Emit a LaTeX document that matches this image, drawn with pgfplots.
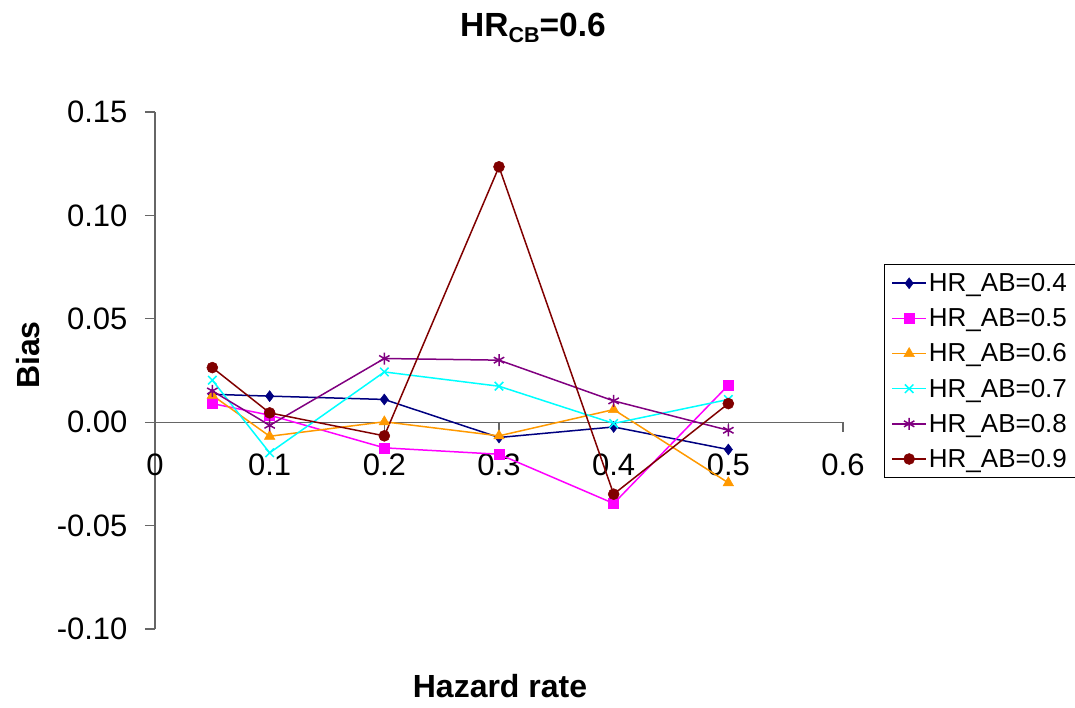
\documentclass[border=0pt]{standalone}
\usepackage{pgfplots}
\pgfplotsset{compat=1.18}
\usepackage{fontspec}
\setmainfont{Liberation Sans}

\definecolor{cNavy}{HTML}{000080}
\definecolor{cMagenta}{HTML}{FF00FF}
\definecolor{cOrange}{HTML}{FF9900}
\definecolor{cCyan}{HTML}{00FFFF}
\definecolor{cPurple}{HTML}{800080}
\definecolor{cDarkRed}{HTML}{800000}
\definecolor{axisgray}{HTML}{666666}

\begin{document}
\begin{tikzpicture}[x=1pt,y=1pt]
\useasboundingbox (0,0) rectangle (1075,707);
\begin{axis}[
  at={(155pt,78pt)}, anchor=south west,
  scale only axis, width=688pt, height=517pt,
  xmin=0, xmax=0.6, ymin=-0.10, ymax=0.15,
  clip=false,
  axis x line=middle, axis y line=left,
  hide obscured x ticks=false,
  axis line style={-, draw=axisgray, line width=1.3pt},
  xtick={0,0.1,0.2,0.3,0.4,0.5,0.6},
  ytick={-0.10,-0.05,0,0.05,0.10,0.15},
  ytick align=outside,
  xtick align=center,
  major tick length=10pt,
  tick style={draw=axisgray, line width=1.3pt},
  xtick style={yshift=-5pt},
  /pgf/number format/assume math mode=true,
  xticklabel style={/pgf/number format/fixed, /pgf/number format/precision=1,
    font=\fontsize{31}{36}\selectfont, yshift=-23pt},
  yticklabel style={/pgf/number format/fixed, /pgf/number format/fixed zerofill,
    /pgf/number format/precision=2, font=\fontsize{31}{36}\selectfont, xshift=-14pt},
  every axis plot/.append style={line width=1.5pt},
  legend cell align=left,
  legend style={at={(1.0596,0.706)}, anchor=north west, draw=black, thick,
    font=\fontsize{26}{30}\selectfont, row sep=11.5pt, inner xsep=7pt, inner ysep=7pt},
  legend image code/.code={
    \draw[line width=1.5pt, mark repeat=2, mark phase=2]
      plot coordinates {(0pt,0pt) (17pt,0pt) (34pt,0pt)};
  },
]
\addplot[color=cNavy, mark=diamond*, mark size=5.5pt, mark options={solid, line width=0.5pt}]
  coordinates {(0.05,0.0135) (0.1,0.0126) (0.2,0.0110) (0.3,-0.0074) (0.4,-0.0023) (0.5,-0.0132)};
\addlegendentry{HR\_AB=0.4}
\addplot[color=cMagenta, mark=square*, mark size=5pt, mark options={solid, line width=0.5pt}]
  coordinates {(0.05,0.0090) (0.1,0.0034) (0.2,-0.0124) (0.3,-0.0155) (0.4,-0.0393) (0.5,0.0179)};
\addlegendentry{HR\_AB=0.5}
\addplot[color=cOrange, mark=triangle*, mark size=6pt, mark options={solid, line width=0.5pt}]
  coordinates {(0.05,0.0130) (0.1,-0.0068) (0.2,0.0002) (0.3,-0.0066) (0.4,0.0061) (0.5,-0.0293)};
\addlegendentry{HR\_AB=0.6}
\addplot[color=cCyan, mark=x, mark size=6pt, mark options={solid, line width=1.5pt}]
  coordinates {(0.05,0.0203) (0.1,-0.0148) (0.2,0.0243) (0.3,0.0174) (0.4,-0.0006) (0.5,0.0110)};
\addlegendentry{HR\_AB=0.7}
\addplot[color=cPurple, mark=asterisk, mark size=6pt, mark options={solid, line width=1.5pt}]
  coordinates {(0.05,0.0151) (0.1,-0.0015) (0.2,0.0308) (0.3,0.0300) (0.4,0.0103) (0.5,-0.0039)};
\addlegendentry{HR\_AB=0.8}
\addplot[color=cDarkRed, mark=*, mark size=5.5pt, mark options={solid, line width=0.5pt}]
  coordinates {(0.05,0.0264) (0.1,0.0045) (0.2,-0.0066) (0.3,0.1235) (0.4,-0.0348) (0.5,0.0090)};
\addlegendentry{HR\_AB=0.9}
\end{axis}
\node[font=\bfseries\fontsize{33.5}{40}\selectfont, anchor=base] at (533,670)
  {HR\raisebox{-6pt}{\fontsize{21.5}{24}\selectfont CB}=0.6};
\node[font=\bfseries\fontsize{32}{38}\selectfont] at (500,21) {Hazard rate};
\node[font=\bfseries\fontsize{32}{38}\selectfont, rotate=90] at (28,352) {Bias};
\end{tikzpicture}
\end{document}
